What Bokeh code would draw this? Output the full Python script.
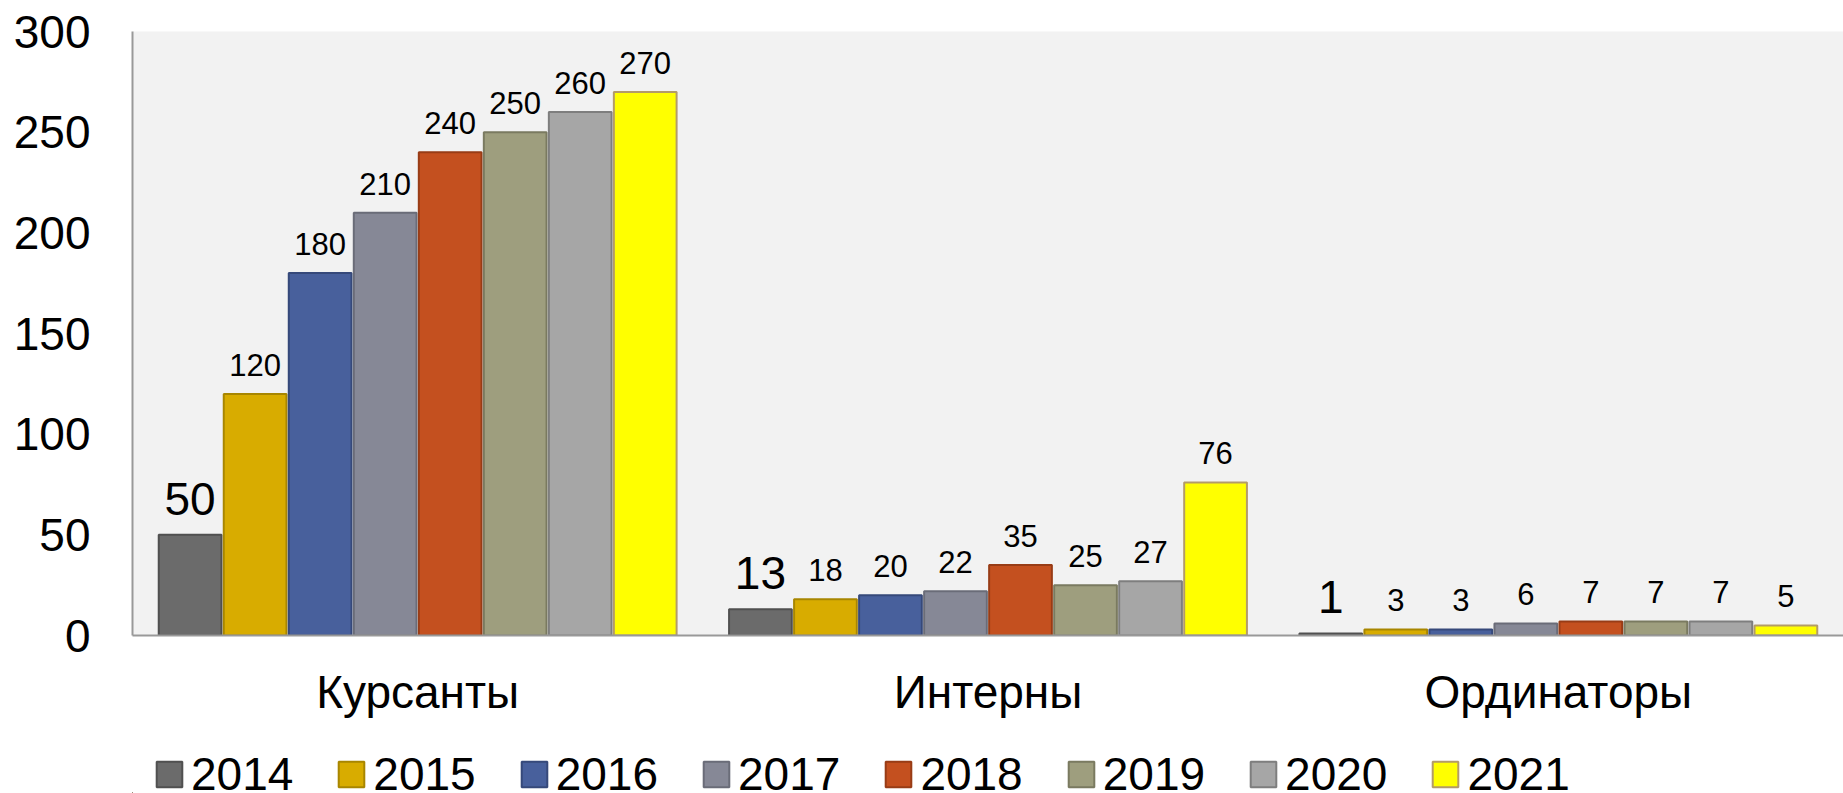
from bokeh.plotting import figure
from bokeh.models import FactorRange, Range1d, FixedTicker, ColumnDataSource, LabelSet
from bokeh.transform import dodge
from bokeh.core.properties import value
from bokeh.layouts import column
from bokeh.embed import file_html
from bokeh.resources import INLINE

categories = ["Курсанты", "Интерны", "Ординаторы"]
years = ["2014", "2015", "2016", "2017", "2018", "2019", "2020", "2021"]
v2014 = [50, 13, 1]
v2015 = [120, 18, 3]
v2016 = [180, 20, 3]
v2017 = [210, 22, 6]
v2018 = [240, 35, 7]
v2019 = [250, 25, 7]
v2020 = [260, 27, 7]
v2021 = [270, 76, 5]
y_ticks = [0, 50, 100, 150, 200, 250, 300]

series = [v2014, v2015, v2016, v2017, v2018, v2019, v2020, v2021]
fills = ["#6B6B6B", "#D8AC00", "#48609C", "#868896", "#C4501F", "#9E9E7E", "#A6A6A6", "#FFFF00"]
lines = ["#505050", "#A88600", "#36497A", "#6A6C78", "#983C16", "#7A7A60", "#7E7E7E", "#B39B68"]

FONT = "Liberation Sans"

p = figure(x_range=FactorRange(factors=categories, range_padding=0),
           y_range=Range1d(0, 300),
           width=1843, height=740,
           min_border_left=132, min_border_right=0, min_border_top=31, min_border_bottom=105,
           output_backend="svg", toolbar_location=None)

p.background_fill_color = "#F2F2F2"
p.border_fill_color = "white"
p.outline_line_color = None
p.xgrid.grid_line_color = None
p.ygrid.grid_line_color = None

# legend strip below the chart
q = figure(width=1843, height=53, x_range=Range1d(0, 1), y_range=Range1d(0, 1),
           min_border=0, x_axis_type=None, y_axis_type=None,
           output_backend="svg", toolbar_location=None)
q.outline_line_color = None
q.background_fill_color = "white"
q.border_fill_color = "white"

bw = 0.114
for i, (yr, vals) in enumerate(zip(years, series)):
    src = ColumnDataSource(dict(cat=categories, val=vals, txt=[str(v) for v in vals]))
    off = (i - 3.5) * bw
    p.vbar(x=dodge("cat", off, range=p.x_range), top="val", width=bw - 0.004, source=src,
           fill_color=fills[i], line_color=lines[i], line_width=2)
    big = (i == 0)
    labels = LabelSet(x=dodge("cat", off, range=p.x_range), y="val", text="txt", source=src,
                      text_align="center", text_baseline="alphabetic",
                      y_offset=20 if big else 18,
                      text_font=value(FONT),
                      text_font_size=value("46px" if big else "31px"),
                      text_color="black")
    p.add_layout(labels)
    # off-screen proxy bar, only used to draw the legend swatch
    proxy = ColumnDataSource(dict(x=[-10], top=[-10]))
    q.vbar(x="x", top="top", width=0.1, source=proxy,
           fill_color=fills[i], line_color=lines[i], line_width=2, legend_label=yr)

# axes
p.yaxis.ticker = FixedTicker(ticks=y_ticks)
p.yaxis.major_label_text_font = FONT
p.yaxis.major_label_text_font_size = "46px"
p.yaxis.major_label_text_color = "black"
p.yaxis.major_tick_line_color = None
p.yaxis.minor_tick_line_color = None
p.yaxis.major_tick_out = 0
p.yaxis.major_tick_in = 0
p.yaxis.major_label_standoff = 42
p.yaxis.axis_line_color = "#999999"
p.yaxis.axis_line_width = 2

p.xaxis.major_label_text_font = FONT
p.xaxis.major_label_text_font_size = "46px"
p.xaxis.major_label_text_color = "black"
p.xaxis.major_tick_line_color = None
p.xaxis.major_tick_out = 0
p.xaxis.major_tick_in = 0
p.xaxis.major_label_standoff = 30
p.xaxis.axis_line_color = "#999999"
p.xaxis.axis_line_width = 2

lg = q.legend[0]
lg.orientation = "horizontal"
lg.location = (21, -8)
lg.background_fill_alpha = 0
lg.border_line_color = None
lg.padding = 0
lg.margin = 0
lg.spacing = 42
lg.glyph_width = 32
lg.glyph_height = 32
lg.label_standoff = 6
lg.label_text_font = FONT
lg.label_text_font_size = "46px"
lg.label_text_color = "black"

open("out.html", "w").write(file_html(column(p, q, spacing=0), INLINE))
